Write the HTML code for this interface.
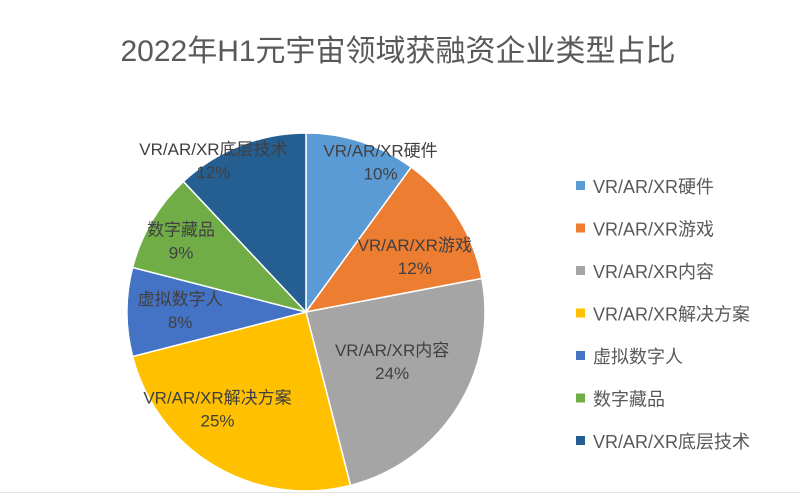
<!DOCTYPE html>
<html><head><meta charset="utf-8"><style>
html,body{margin:0;padding:0;background:#fff;}
body{width:800px;height:494px;overflow:hidden;font-family:"Liberation Sans","Noto Sans CJK SC",sans-serif;}
</style></head><body>
<svg id="chart" width="800" height="494" xmlns="http://www.w3.org/2000/svg" style="font-family:'Liberation Sans','Noto Sans CJK SC',sans-serif">
<text x="398" y="61" text-anchor="middle" font-size="30" fill="#595959">2022年H1元宇宙领域获融资企业类型占比</text>
<g id="slices"></g><g id="labels"></g><g id="legend"></g>
<line x1="0" y1="492.5" x2="800" y2="492.5" stroke="#e6e6e6"/>
</svg>
<script>
const categories=["VR/AR/XR硬件","VR/AR/XR游戏","VR/AR/XR内容","VR/AR/XR解决方案","虚拟数字人","数字藏品","VR/AR/XR底层技术"];
const values=[10,12,24,25,8,9,12];
const valueLabels=["10%","12%","24%","25%","8%","9%","12%"];
const colors=["#5B9BD5","#ED7D31","#A5A5A5","#FFC000","#4472C4","#70AD47","#255E91"];
const cx=306,cy=312,r=179;
// label placement tweaks (layout only): radius factor and pixel nudges
const lrf=[0.95,0.72,0.55,0.62,0.72,0.72,0.98];
const ldx=[22,0,3,-32,3,-14,-28];
const ldy=[10,12,-5,0,-3,-7,10];
const ns="http://www.w3.org/2000/svg";
const total=values.reduce((a,b)=>a+b,0);
const sg=document.getElementById('slices'),lg=document.getElementById('labels'),leg=document.getElementById('legend');
let a0=-Math.PI/2;
values.forEach((v,i)=>{
  const a1=a0+v/total*2*Math.PI;
  const x0=cx+r*Math.cos(a0),y0=cy+r*Math.sin(a0),x1=cx+r*Math.cos(a1),y1=cy+r*Math.sin(a1);
  const p=document.createElementNS(ns,'path');
  p.setAttribute('d',`M${cx},${cy}L${x0},${y0}A${r},${r} 0 ${a1-a0>Math.PI?1:0} 1 ${x1},${y1}Z`);
  p.setAttribute('fill',colors[i]);p.setAttribute('stroke','#fff');p.setAttribute('stroke-width','1.5');
  
  
  sg.appendChild(p);
  const am=(a0+a1)/2,lr=r*lrf[i];
  let lx=cx+lr*Math.cos(am)+ldx[i],ly=cy+lr*Math.sin(am)+ldy[i];
  const t=document.createElementNS(ns,'text');
  t.setAttribute('x',lx);t.setAttribute('y',ly-4);t.setAttribute('text-anchor','middle');
  t.setAttribute('font-size','17');t.setAttribute('fill','#404040');
  
  
  const s1=document.createElementNS(ns,'tspan');s1.setAttribute('x',lx);s1.textContent=categories[i];
  const s2=document.createElementNS(ns,'tspan');s2.setAttribute('x',lx);s2.setAttribute('dy','23');s2.textContent=valueLabels[i];
  t.appendChild(s1);t.appendChild(s2);lg.appendChild(t);
  const y=186+i*42.5;
  const g=document.createElementNS(ns,'g');
  
  
  const rc=document.createElementNS(ns,'rect');
  rc.setAttribute('x',576);rc.setAttribute('y',y-5);rc.setAttribute('width',9);rc.setAttribute('height',9);rc.setAttribute('fill',colors[i]);
  const lt=document.createElementNS(ns,'text');
  lt.setAttribute('x',593);lt.setAttribute('y',y+7);lt.setAttribute('font-size','18');lt.setAttribute('fill','#595959');lt.textContent=categories[i];
  g.appendChild(rc);g.appendChild(lt);leg.appendChild(g);
  a0=a1;
});
</script>
</body></html>
